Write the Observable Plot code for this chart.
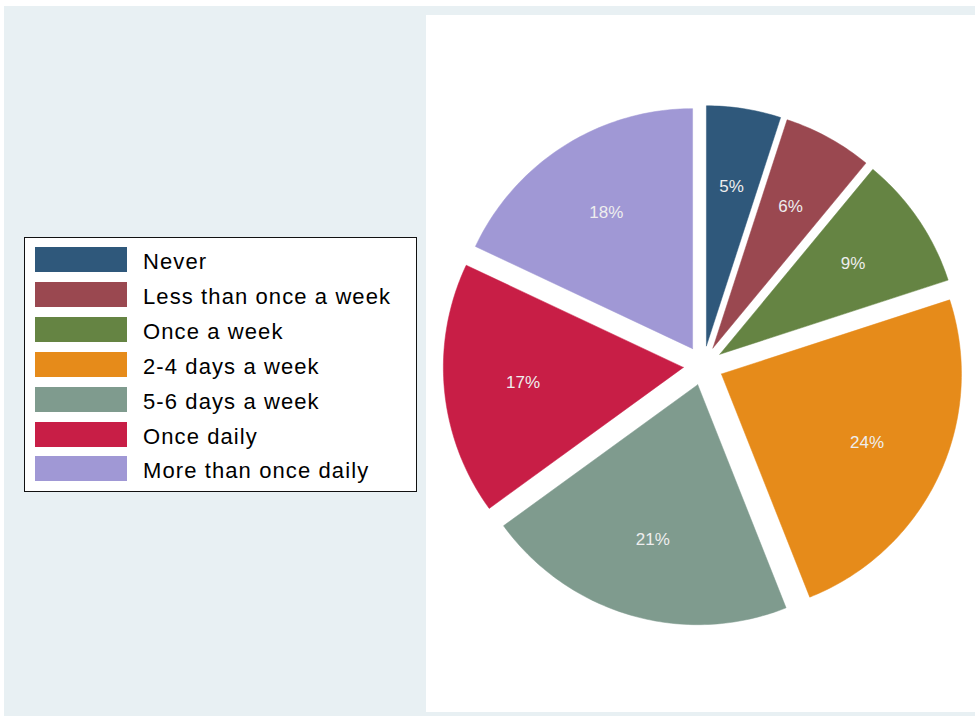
<!DOCTYPE html>
<html>
<head>
<meta charset="utf-8">
<script src="https://cdn.jsdelivr.net/npm/d3@7"></script>
<script src="https://cdn.jsdelivr.net/npm/@observablehq/plot@0.6"></script>
<style>
  html, body { margin: 0; padding: 0; background: #ffffff; }
  #stage { position: relative; width: 975px; height: 716px; overflow: hidden; font-family: Arial, "Liberation Sans", sans-serif; }
  #bg { position: absolute; left: 4px; top: 6px; width: 971px; height: 710px; background: #e8f0f3; }
  #panel { position: absolute; left: 426px; top: 15px; width: 549px; height: 697px; background: #ffffff; }
  #chart { position: absolute; left: 0; top: 0; }
  #legend { position: absolute; left: 24px; top: 237px; width: 391px; height: 253px; background: #ffffff; border: 1.5px solid #111; }
  .row { position: absolute; left: 10px; height: 25px; }
  .sw { position: absolute; left: 0; top: 0; width: 92px; height: 25px; }
  .lb { position: absolute; left: 108px; top: 2px; line-height: 25px; font-size: 22px; letter-spacing: 1.1px; color: #000; white-space: nowrap; }
</style>
</head>
<body>
<div id="stage">
  <div id="bg"></div>
  <div id="panel"></div>
  <div id="chart"></div>
  <div id="legend"></div>
</div>
<script>
const categories = ["Never", "Less than once a week", "Once a week", "2-4 days a week", "5-6 days a week", "Once daily", "More than once daily"];
const shares = [5, 6, 9, 24, 21, 17, 18];
const sliceLabels = ["5%", "6%", "9%", "24%", "21%", "17%", "18%"];
const colors = ["#2f587b", "#9a4850", "#658443", "#e68b1a", "#7f9b8e", "#c81e46", "#a098d5"];

const explode = 0.0833;   // offset of each slice, in radius units
const labelR = 0.671;     // label distance from slice apex

const arcs = d3.pie().sort(null).startAngle(0).endAngle(2 * Math.PI)(shares);

const polyRows = [];
const labelRows = [];
arcs.forEach((a, i) => {
  const mid = (a.startAngle + a.endAngle) / 2;
  const ox = explode * Math.sin(mid), oy = explode * Math.cos(mid);
  const cat = categories[i];
  polyRows.push({cat, x: ox, y: oy});
  const n = Math.max(2, Math.ceil((a.endAngle - a.startAngle) / (Math.PI / 180)));
  for (let k = 0; k <= n; k++) {
    const t = a.startAngle + (a.endAngle - a.startAngle) * k / n;
    polyRows.push({cat, x: ox + Math.sin(t), y: oy + Math.cos(t)});
  }
  polyRows.push({cat, x: ox, y: oy});
  labelRows.push({cat, text: sliceLabels[i], x: ox + labelR * Math.sin(mid), y: oy + labelR * Math.cos(mid)});
});

const chart = Plot.plot({
  width: 975,
  height: 716,
  margin: 0,
  style: {background: "transparent", fontFamily: "Arial, 'Liberation Sans', sans-serif"},
  x: {domain: [-2.928, 1.134], axis: null},
  y: {domain: [-1.4625, 1.521], axis: null},
  color: {domain: categories, range: colors},
  marks: [
    Plot.line(polyRows, {x: "x", y: "y", z: "cat", fill: "cat", stroke: "cat", strokeWidth: 0.5, curve: "linear"}),
    Plot.text(labelRows, {x: "x", y: "y", text: "text", fill: "#eeeeee", fontSize: 17, letterSpacing: 0.5})
  ]
});
document.getElementById("chart").appendChild(chart);

const legend = document.getElementById("legend");
categories.forEach((c, i) => {
  const row = document.createElement("div");
  row.className = "row";
  row.style.top = (9 + i * 34.9) + "px";
  const sw = document.createElement("div");
  sw.className = "sw";
  sw.style.background = colors[i];
  const lb = document.createElement("div");
  lb.className = "lb";
  lb.textContent = c;
  row.appendChild(sw);
  row.appendChild(lb);
  legend.appendChild(row);
});
</script>
</body>
</html>
